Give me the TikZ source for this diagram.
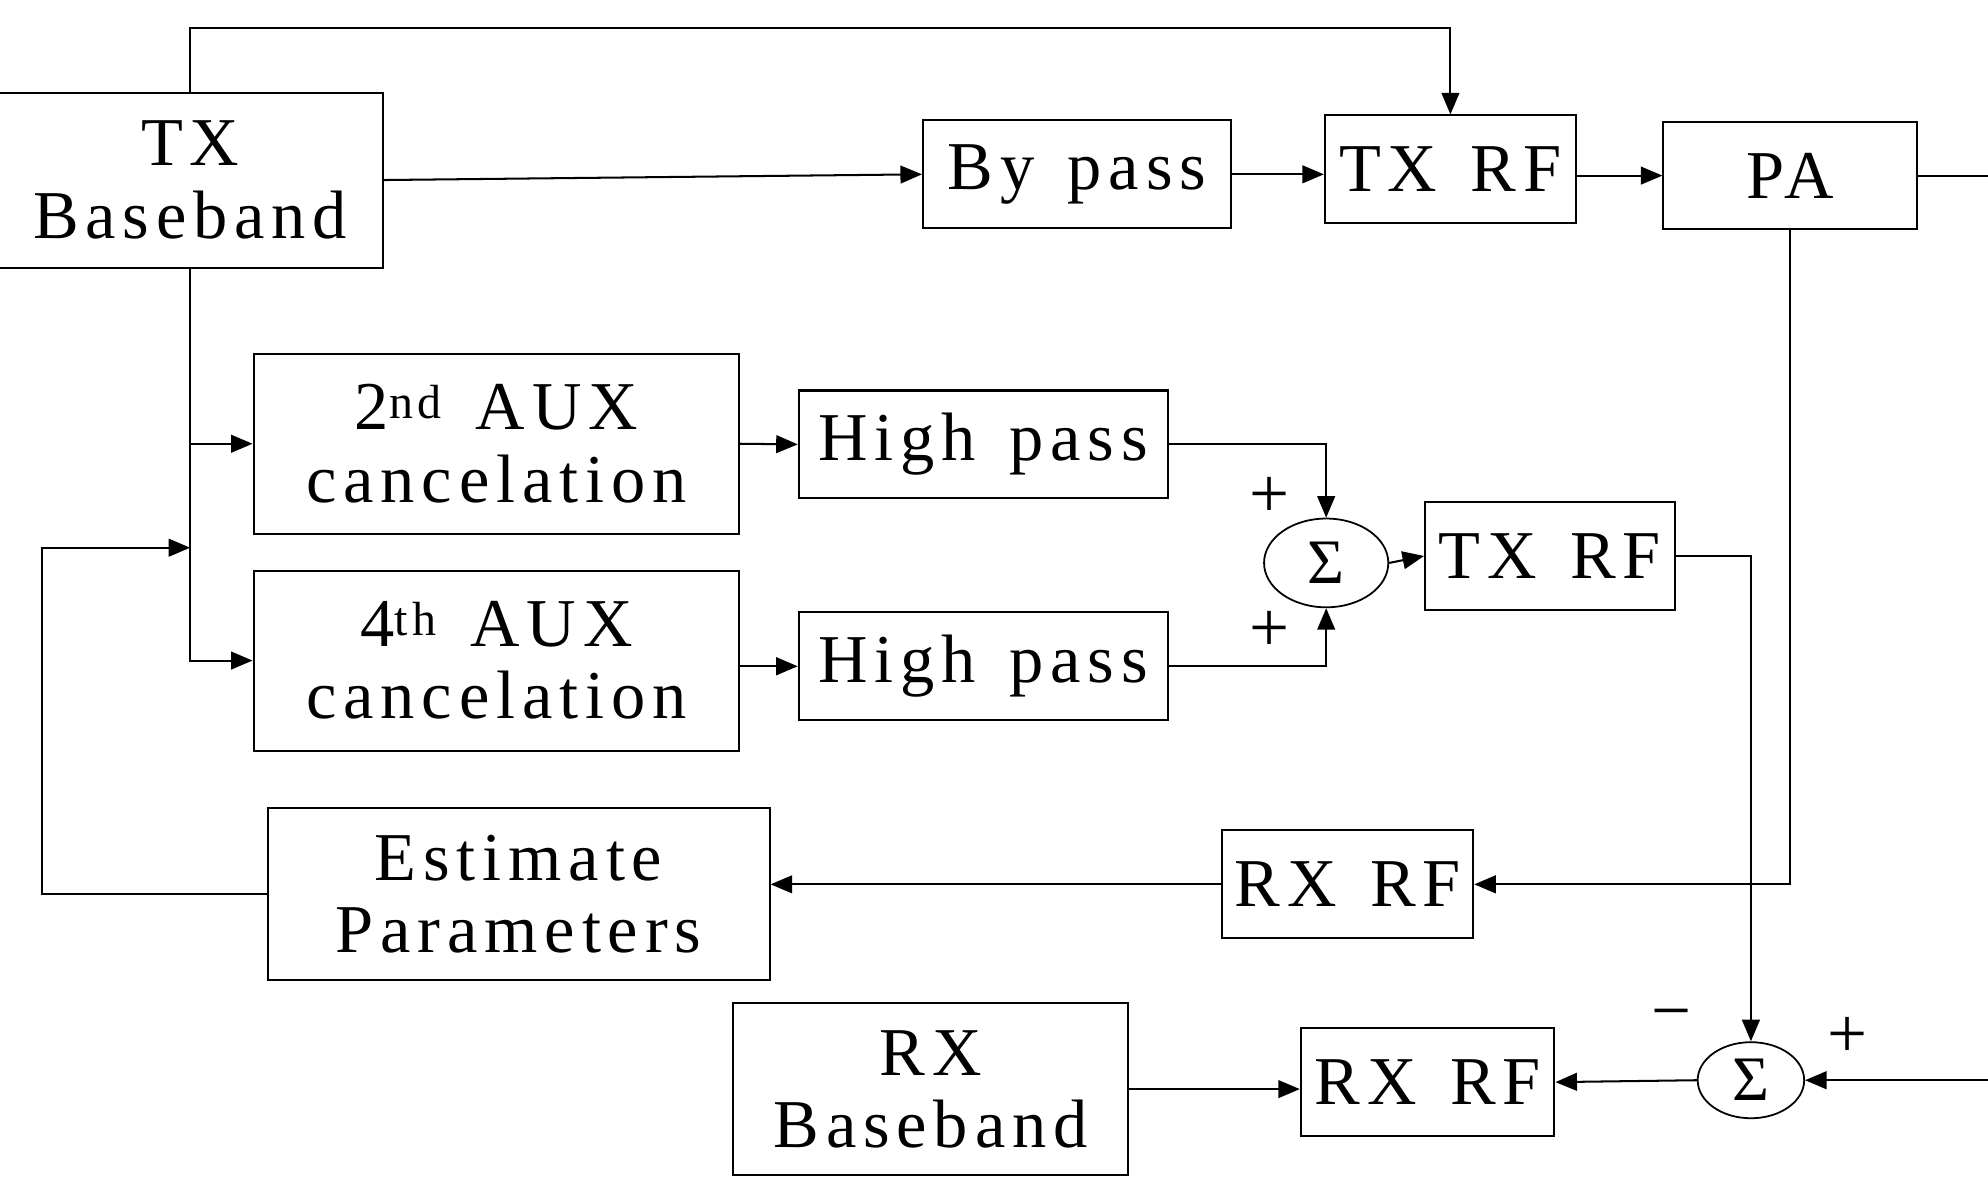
\documentclass[tikz,border=0pt]{standalone}
\usepackage{fontspec}
\setmainfont{Liberation Serif}[LetterSpace=10,WordSpace=1.4]
\usetikzlibrary{arrows.meta,positioning,shapes.geometric}

\begin{document}
\begin{tikzpicture}[
      x=1pt, y=-1pt, % 坐标按像素给出, y 向下
      blk/.style={draw, line width=1.6pt, inner sep=0pt, align=center, font=\fontsize{54}{57}\selectfont},
      sumnode/.style={draw, ellipse, line width=1.4pt, inner sep=0pt, font=\fontsize{50}{50}\selectfont},
      sgn/.style={inner sep=0pt, font=\fontsize{56}{56}\selectfont},
      wire/.style={line width=1.6pt},
      arr/.style={wire, -{Triangle[length=17pt,width=14pt]}},
    ]
\useasboundingbox (0,0) rectangle (1568,928);

% 发射支路
\node[blk, minimum width=304pt, minimum height=138pt] (txbb) at (150,142) {TX\\Baseband};
\node[blk, minimum width=243pt, minimum height=85pt] (bypass) at (849.5,137.5) {By pass};
\node[blk, minimum width=198pt, minimum height=85pt] (txrf) at (1144,133.5) {TX RF};
\node[blk, minimum width=200pt, minimum height=85pt] (pa) at (1412,138.5) {PA};

% 辅助抵消支路
\node[blk, minimum width=383pt, minimum height=142pt] (aux2) at (391.5,350) {2\textsuperscript{nd} AUX\\cancelation};
\node[blk, minimum width=383pt, minimum height=142pt] (aux4) at (391.5,521) {4\textsuperscript{th} AUX\\cancelation};
\node[blk, minimum width=291pt, minimum height=85pt] (hp2) at (775.5,350.5) {High pass};
\node[blk, minimum width=291pt, minimum height=85pt] (hp4) at (775.5,525.5) {High pass};
\node[sumnode, minimum width=98pt, minimum height=70pt] (sum1) at (1046,444) {Σ};
\node[blk, minimum width=197pt, minimum height=85pt] (txrfaux) at (1222.5,438.5) {TX RF};

% 接收支路
\node[blk, minimum width=396pt, minimum height=136pt] (est) at (409,705) {Estimate\\Parameters};
\node[blk, minimum width=198pt, minimum height=85pt] (rxrffb) at (1063,697.5) {RX RF};
\node[blk, minimum width=312pt, minimum height=136pt] (rxbb) at (734,859) {RX\\Baseband};
\node[blk, minimum width=200pt, minimum height=85pt] (rxrf) at (1126,853.5) {RX RF};
\node[sumnode, minimum width=84pt, minimum height=60pt] (sum2) at (1381,852) {Σ};

% 正负号
\node[sgn] (plusa) at (1001,392) {+};
\node[sgn] (plusb) at (1001,498) {+};
\node[sgn] (minus) at (1318,806) {−};
\node[sgn] (plusc) at (1457,818) {+};

\coordinate (topy) at (0,22);
\coordinate (redge) at (1580,0);
\coordinate (fbx) at (33,0);
\coordinate (fbtap) at (150,432);

% 连线
\draw[arr] (txbb.north) -- (txbb.north |- topy) -| (txrf.north);
\draw[arr] (txbb.east) -- (bypass.west);
\draw[arr] (bypass.east) -- (bypass.east -| txrf.west);
\draw[arr] (txrf.east |- pa.west) -- (pa.west);
\draw[wire] (pa.east) -- (pa.east -| redge);
\draw[arr] (pa.south) |- (rxrffb.east);
\draw[arr] (txbb.south) |- (aux4.west);
\draw[arr] (txbb.south |- aux2.west) -- (aux2.west);
\draw[arr] (aux2.east) -- (hp2.west);
\draw[arr] (aux4.east |- hp4.west) -- (hp4.west);
\draw[arr] (hp2.east) -| (sum1.north);
\draw[arr] (hp4.east) -| (sum1.south);
\draw[arr] (sum1.east) -- (txrfaux.west);
\draw[arr] (txrfaux.east) -| (sum2.north);
\draw[arr] (rxrffb.west) -- (rxrffb.west -| est.east);
\draw[arr] (est.west) -- (est.west -| fbx) |- (fbtap);
\draw[arr] (sum2.east -| redge) -- (sum2.east);
\draw[arr] (sum2.west) -- (rxrf.east);
\draw[arr] (rxbb.east) -- (rxbb.east -| rxrf.west);
\end{tikzpicture}
\end{document}
